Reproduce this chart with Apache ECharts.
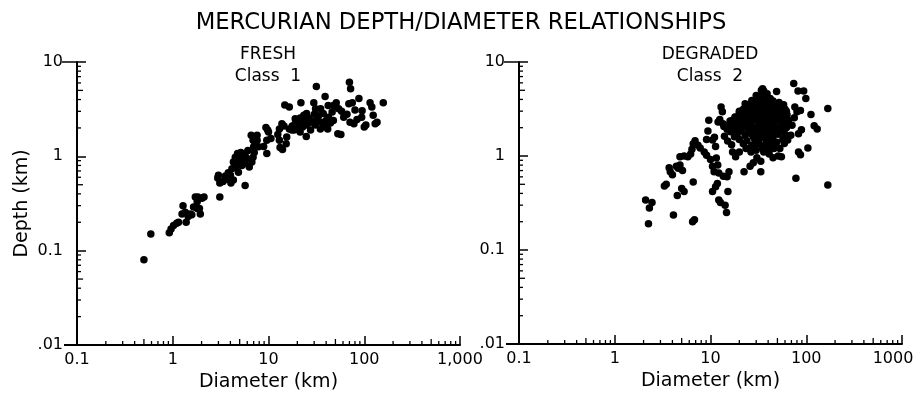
<!DOCTYPE html>
<html><head><meta charset="utf-8">
<script src="https://cdn.jsdelivr.net/npm/echarts@6/dist/echarts.min.js"></script>
<style>html,body{margin:0;padding:0;background:#fff}#c{width:914px;height:395px}</style>
</head><body><div id="c"></div>
<script>
const FONT = 'DejaVu Sans';
const chartTitle = 'MERCURIAN DEPTH/DIAMETER RELATIONSHIPS';
const panelHeadings = ['FRESH', 'DEGRADED'];
const panelClasses = ['Class  1', 'Class  2'];
const xAxisName = 'Diameter (km)';
const yAxisName = 'Depth (km)';
const xTickLabelsFresh = ['0.1', '1', '10', '100', '1,000'];
const xTickLabelsDegraded = ['0.1', '1', '10', '100', '1000'];
const yTickLabels = ['.01', '0.1', '1', '10'];
const minorMultipliers = [2, 3, 4, 5, 6, 7, 8, 9];
const xDecades = [0.1, 1, 10, 100];
const yDecades = [0.01, 0.1, 1];

// Class 1 (fresh) craters
const freshDiameter = [0.50,0.59,0.92,0.96,1.02,1.10,1.15,1.28,1.25,1.35,
 1.45,1.52,1.58,1.65,1.80,1.83,1.94,1.90,2.02,2.12,
 1.72,3.1,3.0,2.95,3.1,3.35,3.55,3.8,4.05,4.3,
 4.15,4.3,4.5,4.7,4.75,5.0,5.15,5.4,5.7,5.95,
 5.7,5.27,4.85,4.6,5.7,6.3,6.7,6.9,7.1,7.0,
 7.3,6.6,6.9,7.6,7.87,8.9,9.6,9.6,9.4,9.8,
 10.6,12.5,13.0,13.2,14,13.8,13.0,14.5,14.8,16.5,
 15.5,15.3,16.5,17.7,18.5,19,19.8,20.6,21.4,21.8,
 22.7,23.6,24.8,25.2,26.1,27.5,28.6,29.7,30.1,30.8,
 31.6,31.9,33.3,34.8,35.6,37.3,38.6,39,40,41.5,
 42.4,44.3,46.2,47.6,47.6,51,54,53,57,58,
 61,66,70,72,69,75,80,84,88,95,
 94,100,104,115,120,124,130,136,158,78,
 71,42,35,31,25,23.4,22,27.5,21.4,17.5,
 19,10,7.6,6.1,4.0,3.7,5.3,4.9,1.38,1.80];
const freshDepth = [0.080,0.15,0.155,0.17,0.185,0.195,0.20,0.30,0.245,0.255,
 0.23,0.245,0.24,0.29,0.33,0.37,0.245,0.28,0.36,0.37,
 0.37,0.37,0.63,0.59,0.52,0.54,0.62,0.67,0.52,0.56,
 0.74,0.87,0.98,0.91,1.07,0.98,1.1,1.03,1.07,0.95,
 0.84,0.8,0.68,0.76,0.49,0.77,0.87,0.98,1.1,1.26,
 1.37,1.67,1.48,1.48,1.26,1.27,1.48,1.07,2.02,1.9,
 1.55,1.7,1.48,1.24,1.18,2.22,1.95,2.1,3.5,3.34,
 1.6,1.36,1.95,2.1,1.9,2.22,2.05,2.3,1.81,3.7,
 2.05,2.35,1.62,2.15,2.55,1.9,2.3,3.7,2.8,2.15,
 5.5,2.4,2.7,1.95,2.3,2.85,2.15,4.3,2.4,1.95,
 2.6,2.25,2.95,2.4,3.45,3.7,3.2,1.74,1.7,3.0,
 2.6,2.8,6.1,5.2,3.6,3.7,3.1,2.45,4.1,3.05,
 2.6,2.05,2.15,3.7,3.34,2.72,2.22,2.3,3.7,2.22,
 2.3,3.45,3.2,3.2,2.85,2.72,2.3,2.4,2.55,1.9,
 2.5,1.81,1.67,1.15,0.63,0.57,0.96,0.85,0.2,0.28];

// Class 2 (degraded) craters: scattered ones
const degradedDiameter = [2.1,2.3,2.45,2.25,3.3,3.45,4.1,3.7,3.8,4.0,
 4.5,5.0,5.3,4.4,4.6,4.8,5.1,4.8,5.3,5.8,
 6.2,6.4,6.6,6.9,7.4,7.8,8.6,9.1,6.5,6.8,
 6.6,9.6,9.4,9.1,10.5,11,11.3,10,11.5,10.5,
 11.9,10.9,12.2,13.6,14.9,15.6,10.5,11.3,11.8,12.2,
 12.7,14.2,14.7,15.2,12.9,13.3,13.8,14.9,14,15.1,
 16.6,17,18.3,20,17.8,16.2,18.3,20,19,22.4,
 25.9,28,33.5,30.5,33.5,45,51,55,41,36,
 26.5,23.5,29,35,49,74,82,94,99,76,
 80,87,75,71,83,89,112,121,130,104,
 83,87,78,168,168,64,69,59,53,44];
const degradedDepth = [0.34,0.28,0.32,0.19,0.48,0.50,0.235,0.75,0.68,0.63,
 0.38,0.45,0.42,0.78,0.74,0.8,0.7,0.98,1.0,0.98,
 1.05,1.18,1.35,1.45,1.3,1.22,1.1,1.02,0.20,0.21,
 0.53,2.4,1.85,1.5,1.48,1.58,1.26,0.92,0.95,0.78,
 0.8,0.68,0.66,0.61,0.6,0.68,0.42,0.47,0.51,0.34,
 0.32,0.3,0.25,0.42,3.33,2.95,2.06,1.92,1.62,1.44,
 1.32,1.1,0.98,1.1,1.6,1.81,2.0,2.1,2.4,0.68,
 0.78,0.85,0.68,0.96,0.88,0.96,1.0,0.98,1.05,1.1,
 1.1,1.2,1.3,5.2,4.85,5.9,4.9,4.9,4.1,3.33,
 2.95,3.05,2.55,2.13,1.72,1.9,2.76,2.1,1.94,1.22,
 1.1,1.03,0.58,3.2,0.49,1.48,1.66,1.36,1.2,1.25];
// Class 2: dense core of the cloud
const degradedCoreDiameter = [30,33,38,42,
 27,31,35,40,45,52,
 24,28,32,36,41,47,55,
 22,26,29,34,38,44,50,60,
 20,24,27,31,35,40,46,53,63,
 19,22,25,29,33,37,42,48,57,
 16,18,21,24,27,31,35,39,45,52,62,
 15,17,20,23,26,30,34,38,43,50,58,
 18,21,25,28,32,36,41,47,54,
 19,23,27,31,35,40,45,51,
 20,24,29,33,38,43,49,57,
 22,27,32,37,42,48,
 25,30,35,40,46,
 12,13.5,12.5,
 23,26,30,34,37,43,48,33,36,28,38,44,31,26,41,55,58,47,22,35,39,31,
 62,65,60,18,17,16,58,62,20,23,34,36];
const degradedCoreDepth = [4.4,4.2,4.35,4.1,
 3.9,3.95,3.8,3.9,3.85,3.7,
 3.5,3.6,3.45,3.55,3.4,3.5,3.35,
 3.15,3.2,3.1,3.25,3.1,3.2,3.05,3.15,
 2.85,2.95,2.8,2.9,2.85,2.95,2.8,2.9,2.75,
 2.6,2.55,2.65,2.6,2.5,2.65,2.55,2.6,2.5,
 2.35,2.3,2.4,2.3,2.35,2.4,2.3,2.35,2.3,2.4,2.25,
 2.1,2.15,2.05,2.1,2.15,2.05,2.1,2.0,2.1,2.05,2.15,
 1.9,1.85,1.9,1.95,1.85,1.9,1.8,1.9,1.85,
 1.7,1.65,1.7,1.75,1.65,1.7,1.6,1.7,
 1.5,1.45,1.5,1.55,1.45,1.5,1.4,1.5,
 1.35,1.3,1.35,1.3,1.35,1.3,
 1.2,1.15,1.2,1.15,1.2,
 2.3,2.2,2.45,
 2.8,3.5,3.35,3.7,4.0,3.6,3.3,2.2,2.5,1.6,1.55,1.85,1.45,2.0,2.25,2.6,1.9,2.45,2.2,4.6,4.6,3.2,
 2.0,2.4,1.7,2.6,2.4,1.9,3.5,3.0,3.0,3.6,5.0,4.9];

function pairs(xs, ys) { return xs.map((x, i) => [x, ys[i]]); }
const freshData = pairs(freshDiameter, freshDepth);
const degradedData = pairs(degradedDiameter.concat(degradedCoreDiameter), degradedDepth.concat(degradedCoreDepth));

const minorX = [];
xDecades.forEach(d => minorMultipliers.forEach(m => minorX.push(+(d * m).toPrecision(3))));
const minorY = [];
yDecades.forEach(d => minorMultipliers.forEach(m => minorY.push(+(d * m).toPrecision(3))));

const grids = [
  { left: 77, top: 62, width: 383, height: 283 },
  { left: 519, top: 62, width: 383, height: 282 }
];
const centers = [268, 710];

function isFive(v) { const m = v / Math.pow(10, Math.floor(Math.log10(v) + 1e-9)); return Math.abs(m - 5) < 0.01; }

function tickSeries(g) {
  const data = [];
  minorX.forEach(v => data.push([v, 0.01, 0]));
  minorY.forEach(v => data.push([0.1, v, 1]));
  data.push([0.1, 0.01, 2]);
  data.push([0.1, 10, 3]);
  return {
    type: 'custom', xAxisIndex: g, yAxisIndex: g, silent: true, clip: false, z: 3,
    encode: { x: 0, y: 1 },
    renderItem: function (params, api) {
      const p = api.coord([api.value(0), api.value(1)]);
      const k = api.value(2);
      let shape, lw = 1.3;
      if (k === 0) { const len = isFive(api.value(0)) ? 6 : 4; shape = { x1: p[0], y1: p[1], x2: p[0], y2: p[1] - len }; }
      else if (k === 1) { const len = isFive(api.value(1)) ? 6 : 4; shape = { x1: p[0], y1: p[1], x2: p[0] + len, y2: p[1] }; }
      else if (k === 2) { shape = { x1: p[0] - 13, y1: p[1], x2: p[0], y2: p[1] }; lw = 2; }
      else { shape = { x1: p[0] - 15, y1: p[1], x2: p[0], y2: p[1] }; lw = 1.5; }
      return { type: 'line', shape: shape, style: { stroke: '#000', lineWidth: lw } };
    },
    data: data
  };
}

function xAxis(g, labels) {
  return {
    type: 'log', logBase: 10, gridIndex: g, min: 0.1, max: 1000,
    name: xAxisName, nameLocation: 'middle', nameGap: 28, nameMoveOverlap: false,
    nameTextStyle: { fontFamily: FONT, fontSize: 19, color: '#000' },
    axisLine: { lineStyle: { color: '#000', width: 2 } },
    axisTick: { inside: true, length: 9, lineStyle: { color: '#000', width: 1.5 } },
    splitLine: { show: false },
    axisLabel: {
      margin: 7, color: '#000', fontFamily: FONT, fontSize: 16, showMinLabel: true, showMaxLabel: true,
      formatter: function (v) {
        const i = Math.round(Math.log10(v)) + 1;
        if (g === 1 && i === 4) return '{e|' + labels[i] + '}';
        return labels[i];
      },
      rich: { e: { fontFamily: FONT, fontSize: 16, color: '#000', padding: [0, 18, 0, 0] } }
    }
  };
}
function yAxis(g) {
  return {
    type: 'log', logBase: 10, gridIndex: g, min: 0.01, max: 10,
    name: g === 0 ? yAxisName : '', nameLocation: 'middle', nameGap: 45, nameMoveOverlap: false,
    nameTextStyle: { fontFamily: FONT, fontSize: 19, color: '#000' },
    axisLine: { lineStyle: { color: '#000', width: 2 } },
    axisTick: { inside: true, length: 9, lineStyle: { color: '#000', width: 1.5 } },
    splitLine: { show: false },
    axisLabel: {
      margin: 14, color: '#000', fontFamily: FONT, fontSize: 16, showMinLabel: true, showMaxLabel: true,
      formatter: function (v) { return yTickLabels[Math.round(Math.log10(v)) + 2]; }
    }
  };
}

const titleStyle = (size) => ({ fontFamily: FONT, fontSize: size, fontWeight: 'normal', color: '#000' });
const titles = [{ text: chartTitle, left: 461, top: 12, textAlign: 'center', padding: 0, textStyle: titleStyle(22.7) }];
[0, 1].forEach(g => {
  titles.push({ text: panelHeadings[g], left: centers[g], top: 46, textAlign: 'center', padding: 0, textStyle: titleStyle(17) });
  titles.push({ text: panelClasses[g], left: centers[g], top: 68, textAlign: 'center', padding: 0, textStyle: titleStyle(17) });
});

const dotStyle = { color: '#000', opacity: 1 };
const chart = echarts.init(document.getElementById('c'), null, { renderer: 'canvas' });
chart.setOption({
  animation: false,
  backgroundColor: '#fff',
  title: titles,
  grid: grids.map(g => Object.assign({ outerBoundsMode: 'none', containLabel: false }, g)),
  xAxis: [xAxis(0, xTickLabelsFresh), xAxis(1, xTickLabelsDegraded)],
  yAxis: [yAxis(0), yAxis(1)],
  series: [
    { type: 'scatter', xAxisIndex: 0, yAxisIndex: 0, data: freshData, symbol: 'circle', symbolSize: 7.5, itemStyle: dotStyle, silent: true },
    { type: 'scatter', xAxisIndex: 1, yAxisIndex: 1, data: degradedData, symbol: 'circle', symbolSize: 7.5, itemStyle: dotStyle, silent: true },
    tickSeries(0), tickSeries(1)
  ]
});
</script></body></html>
